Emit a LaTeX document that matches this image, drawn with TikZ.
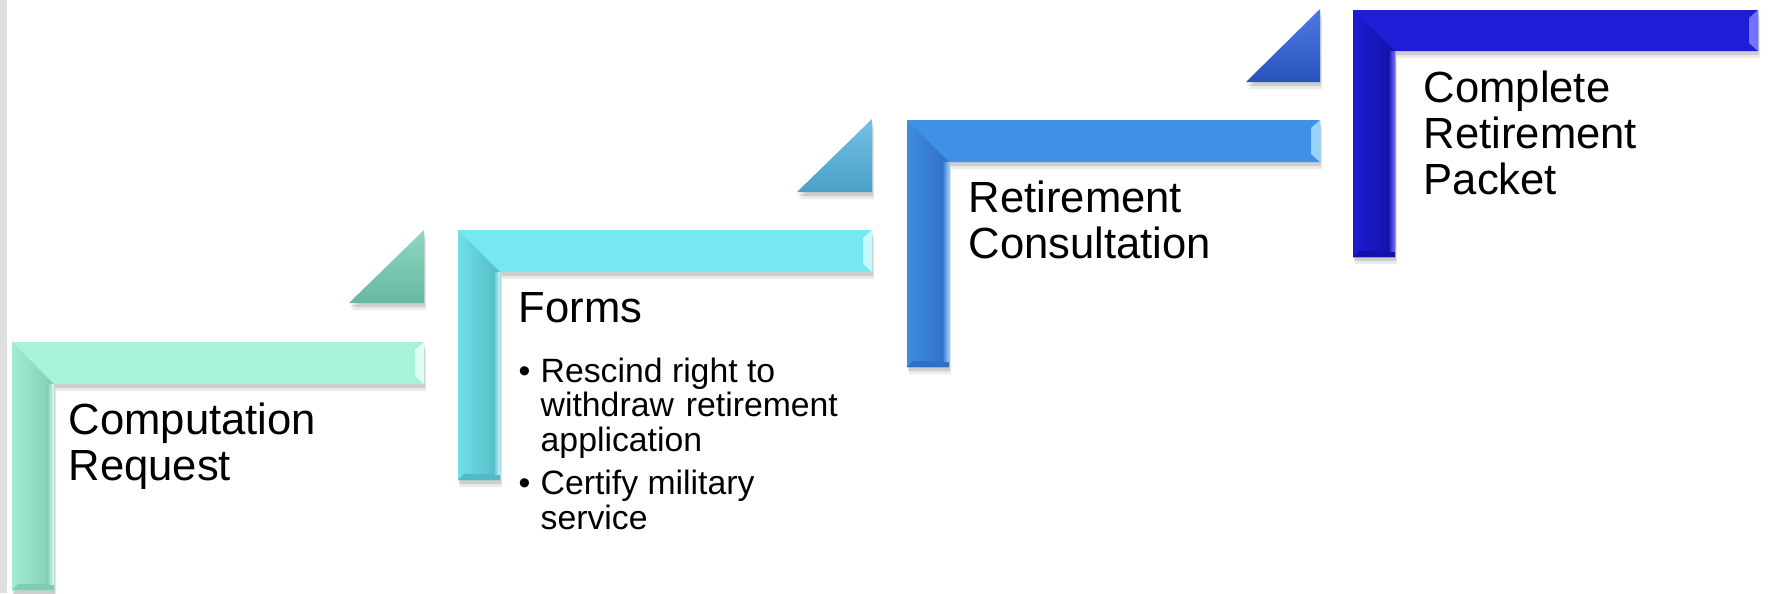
\documentclass[tikz,border=0pt]{standalone}
\usepackage{fontspec}
\setmainfont{Liberation Sans}
\usetikzlibrary{shadows}

% colours of the four steps: bar top, bar, dark edge, light edge, triangle
\definecolor{mintTop}{HTML}{A9F2DA}
\definecolor{mintBar}{HTML}{93DCC4}
\definecolor{mintDark}{HTML}{80CDB4}
\definecolor{mintLight}{HTML}{DDFFF6}
\definecolor{mintTri}{HTML}{72CDB4}
\definecolor{cyanTop}{HTML}{76E8EF}
\definecolor{cyanBar}{HTML}{60CCD5}
\definecolor{cyanDark}{HTML}{52BAC4}
\definecolor{cyanLight}{HTML}{C2FAFF}
\definecolor{cyanTri}{HTML}{52B2DC}
\definecolor{blueTop}{HTML}{3F91E5}
\definecolor{blueBar}{HTML}{3A82D8}
\definecolor{blueDark}{HTML}{306FC6}
\definecolor{blueLight}{HTML}{95D2FF}
\definecolor{blueTri}{HTML}{2F62DE}
\definecolor{navyTop}{HTML}{1E1ED6}
\definecolor{navyBar}{HTML}{1919C2}
\definecolor{navyDark}{HTML}{1212A8}
\definecolor{navyLight}{HTML}{7272FF}

\tikzset{
    stepbar/.style={
        drop shadow={shadow xshift=0.02cm, shadow yshift=-0.07cm,
            opacity=0.08, fill=black},
        drop shadow={shadow xshift=0.01cm, shadow yshift=-0.04cm,
            opacity=0.12, fill=black}},
    steptitle/.style={anchor=base west, inner sep=0pt, text width=4cm,
        align=left, font=\fontsize{12.4}{13.1}\selectfont},
    stepbullets/.style={anchor=base west, inner sep=0pt,
        font=\fontsize{9.6}{9.8}\selectfont}
}

\begin{document}
\begin{tikzpicture}[x=0.01cm, y=-0.01cm]
    \useasboundingbox (0,0) rectangle (1775,593);
    \fill[black!12] (0,0) rectangle (7,593);

    % step 1
    \fill[stepbar, mintTop] (12,342) -- (424,342) -- (424,384) -- (54,384)
        -- (54,590) -- (12,590) -- cycle;
    \shade[left color=mintTop!70!mintBar, middle color=mintBar, right color=mintDark]
        (12,342) -- (54,384) -- (54,590) -- (12,590) -- cycle;
    \shade[left color=mintDark, right color=mintLight] (47,384) rectangle (54,584);
    \fill[mintLight] (424,342) -- (415,350) -- (415,376) -- (424,384) -- cycle;
    \fill[mintDark] (12,590) -- (18,584) -- (48,584) -- (54,590) -- cycle;
    \shade[stepbar, top color=mintTri!80!white, bottom color=mintTri!90!black]
        (349,303) -- (424,303) -- (424,230) -- cycle;

    % step 2
    \fill[stepbar, cyanTop] (458,230) -- (872,230) -- (872,272) -- (500,272)
        -- (500,480) -- (458,480) -- cycle;
    \shade[left color=cyanTop!70!cyanBar, middle color=cyanBar, right color=cyanDark]
        (458,230) -- (500,272) -- (500,480) -- (458,480) -- cycle;
    \shade[left color=cyanDark, right color=cyanLight] (493,272) rectangle (500,474);
    \fill[cyanLight] (872,230) -- (863,238) -- (863,264) -- (872,272) -- cycle;
    \fill[cyanDark] (458,480) -- (464,474) -- (494,474) -- (500,480) -- cycle;
    \shade[stepbar, top color=cyanTri!80!white, bottom color=cyanTri!90!black]
        (797,192) -- (872,192) -- (872,119) -- cycle;

    % step 3
    \fill[stepbar, blueTop] (907,120) -- (1320,120) -- (1320,162) -- (949,162)
        -- (949,367) -- (907,367) -- cycle;
    \shade[left color=blueTop!70!blueBar, middle color=blueBar, right color=blueDark]
        (907,120) -- (949,162) -- (949,367) -- (907,367) -- cycle;
    \shade[left color=blueDark, right color=blueLight] (942,162) rectangle (949,361);
    \fill[blueLight] (1320,120) -- (1311,128) -- (1311,154) -- (1320,162) -- cycle;
    \fill[blueDark] (907,367) -- (913,361) -- (943,361) -- (949,367) -- cycle;
    \shade[stepbar, top color=blueTri!85!white, bottom color=blueTri!85!black]
        (1246,82) -- (1320,82) -- (1320,9) -- cycle;

    % step 4
    \fill[stepbar, navyTop] (1353,10) -- (1758,10) -- (1758,51) -- (1395,51)
        -- (1395,257) -- (1353,257) -- cycle;
    \shade[left color=navyTop!70!navyBar, middle color=navyBar, right color=navyDark]
        (1353,10) -- (1395,51) -- (1395,257) -- (1353,257) -- cycle;
    \shade[left color=navyDark, right color=navyLight] (1388,51) rectangle (1395,251);
    \fill[navyLight] (1758,10) -- (1749,18) -- (1749,43) -- (1758,51) -- cycle;
    \fill[navyDark] (1353,257) -- (1359,251) -- (1389,251) -- (1395,257) -- cycle;

    % labels
    \node (compReq) [steptitle] at (68,434) {Computation\\Request};
    \node (forms) [steptitle] at (518,322) {Forms};
    \node (formsList) [stepbullets] at (518,382) {%
        \begin{tabular}[t]{@{}l@{}l@{}}
            \makebox[0.22cm][l]{\textbullet} & Rescind right to\\
            & \makebox[2.97cm][s]{withdraw retirement}\\
            & application\\[2.4pt]
            \makebox[0.22cm][l]{\textbullet} & Certify military\\
            & service
        \end{tabular}};
    \node (consult) [steptitle] at (968,212) {Retirement\\Consultation};
    \node (packet) [steptitle] at (1423,102) {Complete\\Retirement\\Packet};
\end{tikzpicture}
\end{document}
